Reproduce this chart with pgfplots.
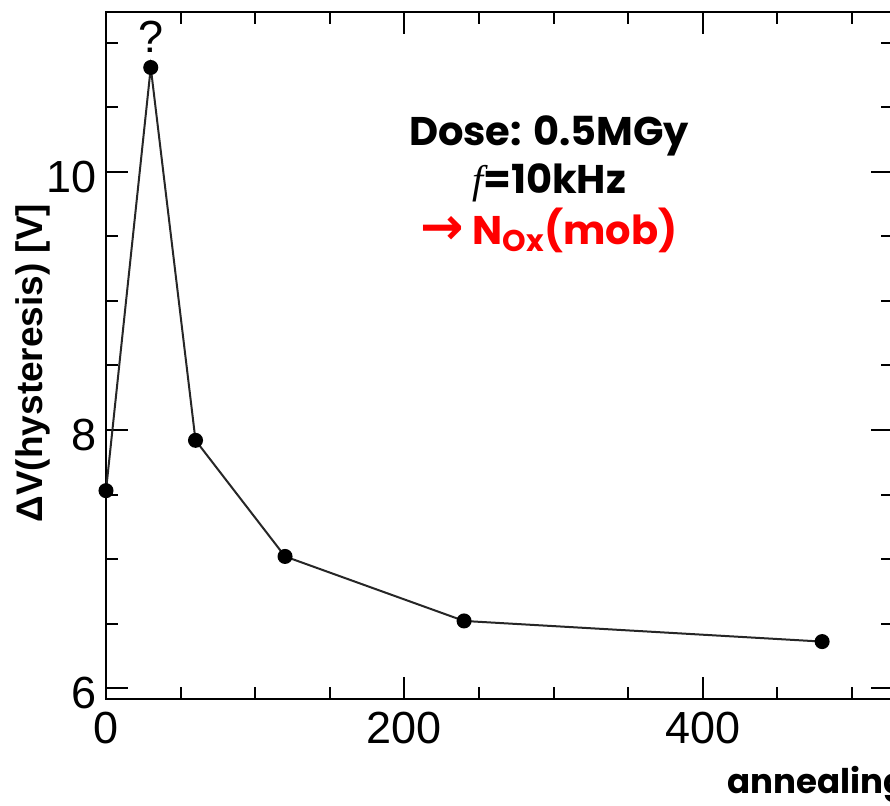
\documentclass[border=0pt]{standalone}
\usepackage{fontspec}
\setmainfont{Liberation Sans}
\newfontfamily\comic{Poppins}
\newfontfamily\dejavu{DejaVu Sans}
\newfontfamily\serifit{Liberation Serif}
\usepackage{pgfplots}
\pgfplotsset{compat=1.18}
\begin{document}
\begin{tikzpicture}
\begin{axis}[
  name=ax,
  scale only axis, width=787pt, height=687pt,
  xmin=0, xmax=527.5, ymin=5.915, ymax=11.24,
  xtick={0,200,400},
  minor xtick={50,100,150,250,300,350,450,500},
  ytick={6,8,10},
  minor ytick={6.5,7,7.5,8.5,9,9.5,10.5,11},
  tick align=inside,
  major tick length=22pt, minor tick length=12pt,
  axis line style={line width=2.5pt},
  every tick/.style={line width=2pt, black},
  /pgf/number format/assume math mode=true,
  ticklabel style={font=\fontsize{45}{50}\selectfont, inner sep=0pt},
  xticklabel style={yshift=-13pt},
  yticklabel style={xshift=-9pt, yshift=-5pt},
  clip=false,
]
\addplot[line width=2pt, black!85, mark=*, mark size=6.5pt,
  mark options={fill=black, draw=black}]
  coordinates {(0,7.53) (30,10.81) (60,7.92) (120,7.02) (240,6.52) (480,6.36)};
\node[anchor=south, inner sep=0pt, yshift=15pt, font=\fontsize{45}{50}\selectfont]
  at (axis cs:30,10.81) {?};
\node[anchor=base, inner sep=0pt, font=\comic\bfseries\fontsize{40}{48}\selectfont]
  at (rel axis cs:0.563,0.8064) {Dose: 0.5MGy};
\node[anchor=base, inner sep=0pt, font=\comic\bfseries\fontsize{40}{48}\selectfont]
  at (rel axis cs:0.563,0.7365) {{\serifit\itshape\mdseries f}=10kHz};
\node[anchor=base, inner sep=0pt, text=red, font=\comic\bfseries\fontsize{40}{48}\selectfont]
  at (rel axis cs:0.563,0.661) {{\dejavu\bfseries\fontsize{52}{56}\selectfont\char"2192}\ N\raisebox{-0.3ex}{\fontsize{30}{36}\selectfont Ox}(mob)};
\node[xshift=-73pt, rotate=90, inner sep=0pt, font=\bfseries\fontsize{37}{42}\selectfont]
  at (rel axis cs:0,0.489) {ΔV(hysteresis) [V]};
\node[xshift=621pt, yshift=-94pt, anchor=base west, inner sep=0pt, font=\comic\bfseries\fontsize{34}{40}\selectfont]
  at (rel axis cs:0,0) {annealing time [min]};
\end{axis}
\pgfresetboundingbox
\path ([xshift=-106pt,yshift=-106pt]ax.south west) rectangle ([xshift=-3pt,yshift=12pt]ax.north east);
\end{tikzpicture}
\end{document}
